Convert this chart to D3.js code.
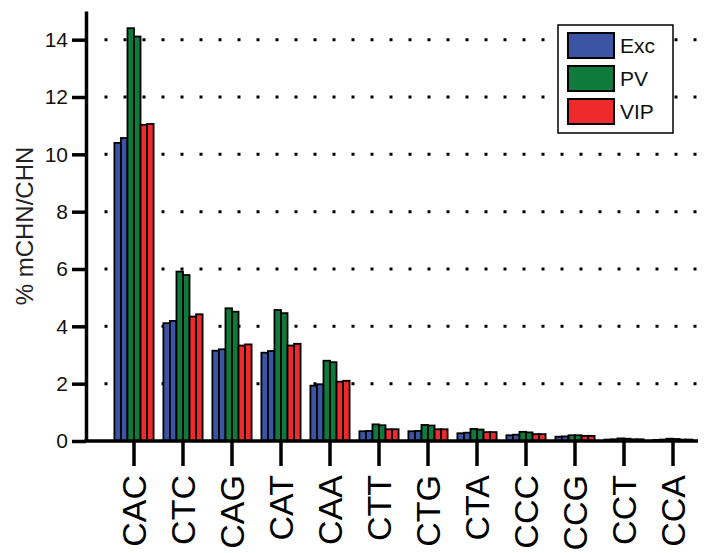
<!DOCTYPE html>
<html>
<head>
<meta charset="utf-8">
<script src="https://cdn.jsdelivr.net/npm/d3@7"></script>
<style>
  body { margin: 0; background: #fff; }
  svg { font-family: "Liberation Sans", Arial, sans-serif; }
</style>
</head>
<body>
<svg id="chart"></svg>
<script>
// codon categories and values (two replicates per cell type)
const categories = ["CAC", "CTC", "CAG", "CAT", "CAA", "CTT", "CTG", "CTA", "CCC", "CCG", "CCT", "CCA"];
const excA = [10.40, 4.11, 3.15, 3.08, 1.93, 0.34, 0.34, 0.27, 0.20, 0.15, 0.05, 0.04];
const excB = [10.57, 4.19, 3.20, 3.14, 1.98, 0.35, 0.35, 0.29, 0.22, 0.16, 0.06, 0.05];
const pvA = [14.40, 5.91, 4.63, 4.57, 2.80, 0.58, 0.56, 0.42, 0.32, 0.20, 0.09, 0.08];
const pvB = [14.11, 5.79, 4.51, 4.46, 2.75, 0.55, 0.54, 0.40, 0.30, 0.20, 0.08, 0.07];
const vipA = [11.03, 4.34, 3.33, 3.33, 2.07, 0.41, 0.41, 0.31, 0.24, 0.18, 0.06, 0.05];
const vipB = [11.06, 4.42, 3.37, 3.39, 2.10, 0.41, 0.41, 0.31, 0.24, 0.18, 0.06, 0.05];
const seriesNames = ["Exc", "PV", "VIP"];
const colors = ["#3b54a3", "#0e7a3b", "#ee2a2d"];
const yTicks = [0, 2, 4, 6, 8, 10, 12, 14];

const width = 713, height = 553;
const margin = { top: 11, left: 86, bottom: 112 };

const svg = d3.select("#chart").attr("width", width).attr("height", height);

// one row of 6 bars per category
const sub = ["excA", "excB", "pvA", "pvB", "vipA", "vipB"];
const subColor = { excA: colors[0], excB: colors[0], pvA: colors[1], pvB: colors[1], vipA: colors[2], vipB: colors[2] };
const rows = categories.map((c, i) => ({
  cat: c,
  excA: excA[i], excB: excB[i], pvA: pvA[i], pvB: pvB[i], vipA: vipA[i], vipB: vipB[i]
}));

const x = d3.scaleBand().domain(categories).range([109.5, 697.5]).paddingInner(0.2).paddingOuter(0.1);
const xSub = d3.scaleBand().domain(sub).range([0, x.bandwidth()]);
const y = d3.scaleLinear().domain([0, 15]).range([height - margin.bottom, margin.top]);

// dotted grid lines
svg.append("g")
  .selectAll("line")
  .data(yTicks.filter((d) => d > 0))
  .enter()
  .append("line")
  .attr("x1", 104.5)
  .attr("x2", 700)
  .attr("y1", (d) => y(d))
  .attr("y2", (d) => y(d))
  .attr("stroke", "#000")
  .attr("stroke-width", 3)
  .attr("stroke-dasharray", "3,16");

// bars
svg.append("g")
  .selectAll("g")
  .data(rows)
  .enter()
  .append("g")
  .attr("transform", (d) => `translate(${x(d.cat)},0)`)
  .selectAll("rect")
  .data((d) => sub.map((k) => ({ key: k, value: d[k] })))
  .enter()
  .append("rect")
  .attr("x", (d) => xSub(d.key))
  .attr("y", (d) => y(d.value))
  .attr("width", xSub.bandwidth())
  .attr("height", (d) => y(0) - y(d.value))
  .attr("fill", (d) => subColor[d.key])
  .attr("stroke", "#000")
  .attr("stroke-width", 1.8);

// y axis
const yAxis = svg.append("g")
  .attr("transform", `translate(${margin.left},0)`)
  .call(d3.axisLeft(y).tickValues(yTicks).tickSize(14).tickSizeOuter(0).tickPadding(4));
yAxis.select(".domain").attr("stroke-width", 3.5);
yAxis.selectAll(".tick line").attr("stroke-width", 3.5);
yAxis.selectAll(".tick text").style("font-size", "21px").attr("fill", "#111");

// x axis
const xAxis = svg.append("g")
  .attr("transform", `translate(0,${y(0)})`)
  .call(d3.axisBottom(x).tickSize(25).tickSizeOuter(0));
xAxis.select(".domain").remove();
xAxis.selectAll(".tick line").attr("stroke-width", 3.5);
xAxis.selectAll(".tick text")
  .attr("transform", "rotate(-90)")
  .attr("x", -34)
  .attr("y", 0)
  .attr("dy", "0.36em")
  .style("text-anchor", "end")
  .style("font-size", "34px")
  .attr("fill", "#000");

svg.append("line")
  .attr("x1", margin.left - 1.75)
  .attr("x2", 698)
  .attr("y1", y(0))
  .attr("y2", y(0))
  .attr("stroke", "#000")
  .attr("stroke-width", 3.5);

// y axis title
svg.append("text")
  .attr("transform", `translate(33,${(y(0) + y(15)) / 2 + 0}) rotate(-90)`)
  .style("text-anchor", "middle")
  .style("font-size", "24px")
  .attr("fill", "#222")
  .text("% mCHN/CHN");

// legend
const legend = svg.append("g").attr("transform", "translate(558,25)");
legend.append("rect")
  .attr("width", 115)
  .attr("height", 108)
  .attr("fill", "#fff")
  .attr("stroke", "#000")
  .attr("stroke-width", 1.5);
const item = legend.selectAll(".item")
  .data(seriesNames)
  .enter()
  .append("g")
  .attr("class", "item")
  .attr("transform", (d, i) => `translate(10,${8 + i * 33})`);
item.append("rect")
  .attr("width", 46)
  .attr("height", 25)
  .attr("fill", (d, i) => colors[i])
  .attr("stroke", "#000")
  .attr("stroke-width", 2);
item.append("text")
  .attr("x", 52)
  .attr("y", 12.5)
  .attr("dy", "0.36em")
  .style("font-size", "21px")
  .attr("fill", "#111")
  .text((d) => d);
</script>
</body>
</html>
